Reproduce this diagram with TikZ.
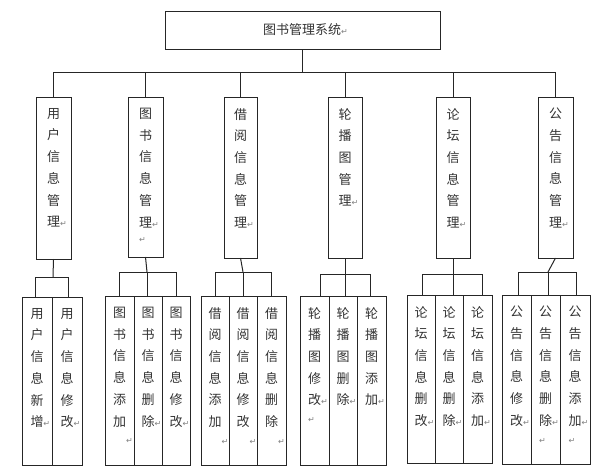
\documentclass[tikz,border=0pt]{standalone}
\usepackage{fontspec}
\newfontfamily\cjk{Noto Sans CJK SC}
\newfontfamily\dejavu{DejaVu Sans}
\newcommand{\rt}{\rlap{\textcolor{gray}{\dejavu\fontsize{8}{8}\selectfont ↵}}}
\begin{document}
\begin{tikzpicture}[x=1pt,y=-1pt,
  ln/.style={draw=black!85,line width=1pt},
  bx/.style={ln,fill=white},
  vt/.style={anchor=north,align=center,inner sep=0pt,font=\cjk\fontsize{13}{21.7}\selectfont,text=black!80}]
\useasboundingbox (0,0) rectangle (612,475);
\newcommand{\bx}[6]{\draw[bx] (#2,#3) rectangle (#4,#5) coordinate (#1-br);
  \coordinate (#1-t) at ({(#2+#4)/2},#3); \coordinate (#1-b) at ({(#2+#4)/2},#5);
  \node[vt] (#1-l) at ({(#2+#4)/2},#3+11) {#6};}
% top
\draw[bx] (165,11) rectangle (440,49);
\node[font=\cjk\fontsize{13}{15}\selectfont,text=black!80] (top) at (302,30) {图书管理系统\rt};
\coordinate (top-b) at (302,49);
\draw[ln] (top-b) -- (302,72);
\draw[ln] (54,72) -- (555,72);
% mid
\bx{m1}{36}{97}{71}{259}{用\\户\\信\\息\\管\\理\rt}
\bx{m2}{128}{97}{163}{257}{图\\书\\信\\息\\管\\理\rt\\[-6pt]\rt\hphantom{理}}
\bx{m3}{224}{97}{257}{258}{借\\阅\\信\\息\\管\\理\rt}
\bx{m4}{328}{97}{362}{258}{轮\\播\\图\\管\\理\rt}
\bx{m5}{436}{97}{470}{258}{论\\坛\\信\\息\\管\\理\rt}
\bx{m6}{538}{97}{573}{258}{公\\告\\信\\息\\管\\理\rt}
\foreach \i in {1,...,6}{\draw[ln] (m\i-t) -- (m\i-t |- 0,72);}
% groups
\newcommand{\grp}[5]{\draw[ln] (#1-b) -- (#1-b |- 0,#2); \draw[ln] (#3,#2) -- (#4,#2);}
% group1
\bx{a1}{22}{297}{52}{465}{用\\户\\信\\息\\新\\增\rt}
\bx{a2}{52}{297}{82}{465}{用\\户\\信\\息\\修\\改\rt}
\draw[ln] (m1-b) -- (53,277); \draw[ln] (35,277) -- (68,277);
\draw[ln] (35,277) -- (35,297); \draw[ln] (68,277) -- (68,297);
% group2
\bx{b1}{105}{296}{134}{465}{图\\书\\信\\息\\添\\加\\[-4pt]\hphantom{加}\rt}
\bx{b2}{134}{296}{162}{465}{图\\书\\信\\息\\删\\除\rt}
\bx{b3}{162}{296}{190}{465}{图\\书\\信\\息\\修\\改\rt}
\draw[ln] (m2-b) -- (147,272); \draw[ln] (119,272) -- (176,272);
\draw[ln] (119,272) -- (119,296); \draw[ln] (147,272) -- (147,296); \draw[ln] (176,272) -- (176,296);
% group3
\bx{c1}{201}{296}{229}{465}{借\\阅\\信\\息\\添\\加\\[-4pt]\hphantom{加}\rt}
\bx{c2}{229}{296}{257}{465}{借\\阅\\信\\息\\修\\改\\[-4pt]\hphantom{改}\rt}
\bx{c3}{257}{296}{286}{465}{借\\阅\\信\\息\\删\\除\\[-4pt]\hphantom{除}\rt}
\draw[ln] (m3-b) -- (243,272); \draw[ln] (215,272) -- (271,272);
\draw[ln] (215,272) -- (215,296); \draw[ln] (243,272) -- (243,296); \draw[ln] (271,272) -- (271,296);
% group4
\bx{d1}{300}{296}{329}{465}{轮\\播\\图\\修\\改\rt\\[-4pt]\rt\hphantom{改}}
\bx{d2}{329}{296}{357}{465}{轮\\播\\图\\删\\除\rt}
\bx{d3}{357}{296}{386}{465}{轮\\播\\图\\添\\加\rt}
\draw[ln] (m4-b) -- (345,274); \draw[ln] (320,274) -- (370,274);
\draw[ln] (320,274) -- (320,296); \draw[ln] (345,274) -- (345,296); \draw[ln] (370,274) -- (370,296);
% group5
\bx{e1}{407}{295}{435}{463}{论\\坛\\信\\息\\删\\改\rt}
\bx{e2}{435}{295}{463}{463}{论\\坛\\信\\息\\删\\除\rt}
\bx{e3}{463}{295}{492}{463}{论\\坛\\信\\息\\添\\加\rt}
\draw[ln] (m5-b) -- (453,274); \draw[ln] (422,274) -- (482,274);
\draw[ln] (422,274) -- (422,295); \draw[ln] (453,274) -- (453,295); \draw[ln] (482,274) -- (482,295);
% group6
\bx{f1}{502}{295}{531}{464}{公\\告\\信\\息\\修\\改\rt}
\bx{f2}{531}{295}{560}{464}{公\\告\\信\\息\\删\\除\rt\\[-4pt]\rt\hphantom{除}}
\bx{f3}{560}{295}{590}{464}{公\\告\\信\\息\\添\\加\rt\\[-4pt]\rt\hphantom{加}}
\draw[ln] (m6-b) -- (548,272); \draw[ln] (518,272) -- (576,272);
\draw[ln] (518,272) -- (518,295); \draw[ln] (548,272) -- (548,295); \draw[ln] (576,272) -- (576,295);
\end{tikzpicture}
\end{document}
